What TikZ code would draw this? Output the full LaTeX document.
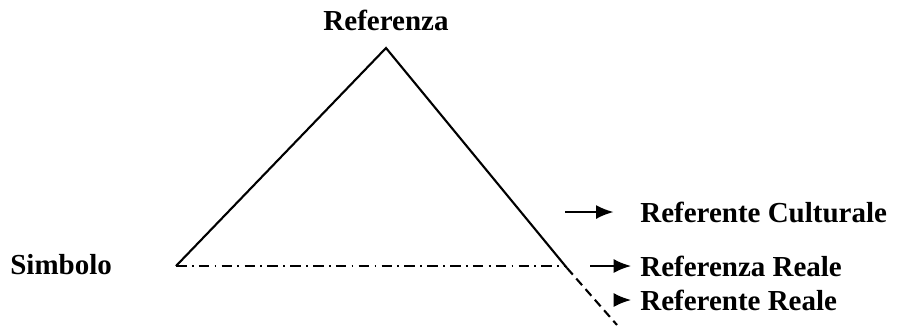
\documentclass[tikz,border=0pt]{standalone}
\usepackage{fontspec}
\setmainfont{Liberation Serif}
\usepackage{tikz}
\usetikzlibrary{positioning, arrows.meta, calc}

\tikzset{
  lbl/.style={font=\fontsize{16.5}{19}\selectfont\bfseries, inner sep=0pt},
  side/.style={line width=1.2pt},
  arr/.style={line width=1.3pt, -{Latex[length=10pt,width=8pt]}},
}

\begin{document}
\begin{tikzpicture}[x=0.02cm, y=-0.02cm]
\useasboundingbox (0,0) rectangle (898,326);
% triangle
\coordinate (apex) at (386,48);
\coordinate (sym) at (176,266);
\coordinate (ref) at (567,268);
\coordinate (tail) at (617,325);
\draw[side] (sym) -- (apex) -- (ref);
\draw[side, dash pattern=on 5pt off 3pt] (ref) -- (tail);
\draw[line width=0.8pt, dash pattern=on 6pt off 3pt on 1pt off 3pt] (sym) -- (565,266);

% labels
\node[lbl] (top) at (386,20) {Referenza};
\node[lbl, anchor=west] (simb) at (10,265) {Simbolo};
\node[lbl, anchor=west] (cult) at (640,212) {Referente Culturale};
\node[lbl, anchor=west] (rreale) at (640,266) {Referenza Reale};
\node[lbl, anchor=west] (freale) at (640,300) {Referente Reale};

% arrows
\coordinate (c1) at (565,212);
\coordinate (c2) at (590,266);
\coordinate (c3) at (618,300);
\draw[arr, shorten >=15pt] (c1) -- (cult.west |- c1);
\draw[arr, shorten >=5pt] (c2) -- (rreale.west |- c2);
\draw[arr, shorten >=5pt] (c3) -- (freale.west |- c3);
\end{tikzpicture}
\end{document}
